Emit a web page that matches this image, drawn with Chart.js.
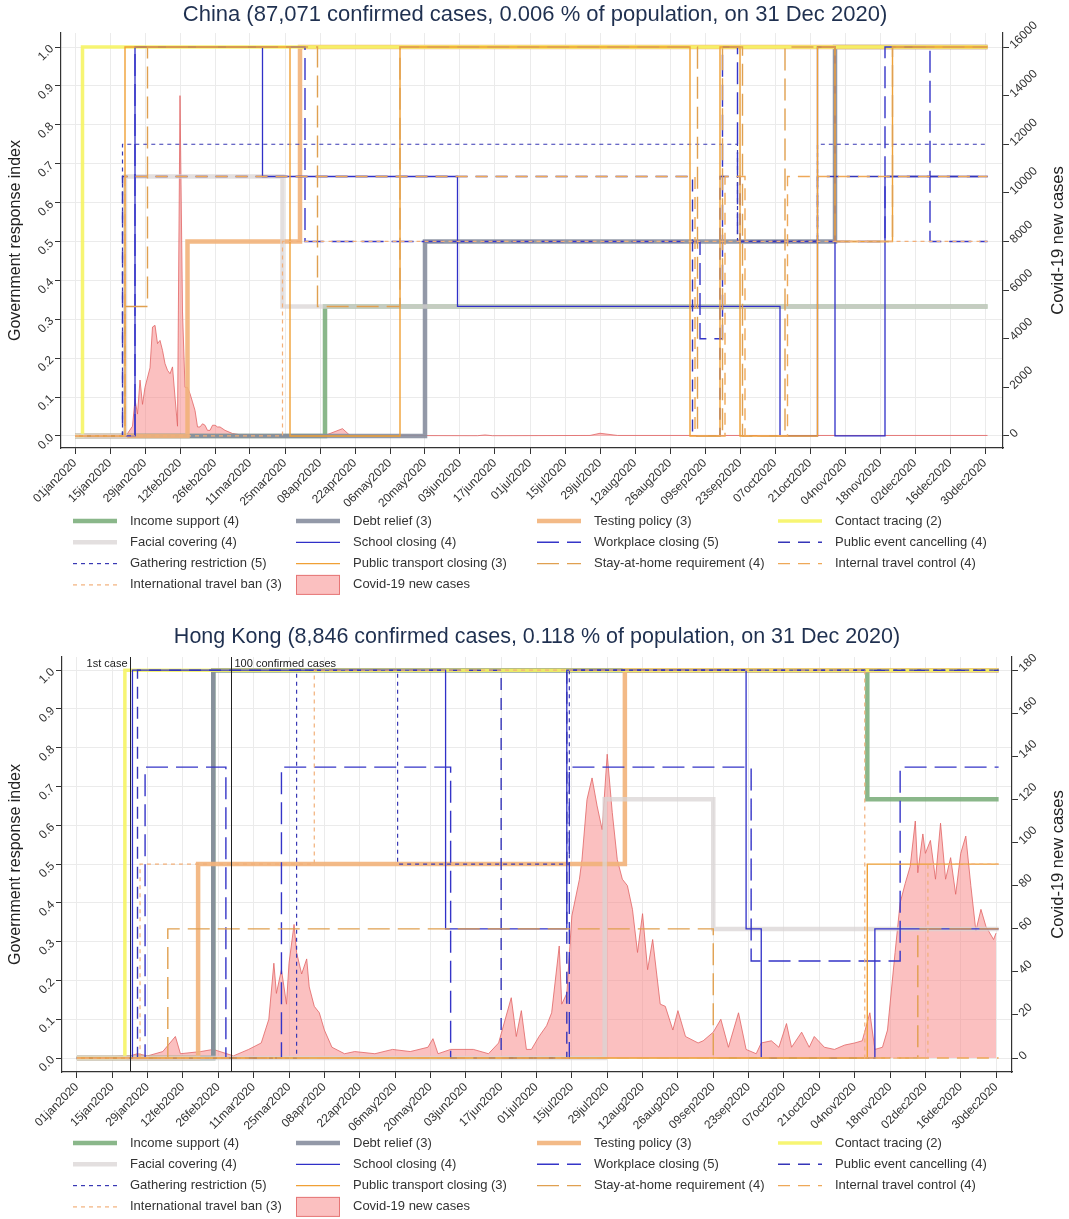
<!DOCTYPE html>
<html>
<head>
<meta charset="utf-8">
<script src="https://cdn.jsdelivr.net/npm/chart.js@4.4.1/dist/chart.umd.min.js"></script>
<style>
  body { margin: 0; background: #fff; }
  canvas { display: block; }
</style>
</head>
<body>
<canvas id="cn" width="1069" height="610"></canvas>
<canvas id="hk" width="1069" height="609"></canvas>
<script>
// ---- data ----

// x ticks every two weeks
const xTicks = ['2020-01-01','2020-01-15','2020-01-29','2020-02-12','2020-02-26','2020-03-11','2020-03-25',
  '2020-04-08','2020-04-22','2020-05-06','2020-05-20','2020-06-03','2020-06-17','2020-07-01','2020-07-15',
  '2020-07-29','2020-08-12','2020-08-26','2020-09-09','2020-09-23','2020-10-07','2020-10-21','2020-11-04',
  '2020-11-18','2020-12-02','2020-12-16','2020-12-30'];
const indexTicks  = [0, 0.1, 0.2, 0.3, 0.4, 0.5, 0.6, 0.7, 0.8, 0.9, 1.0];
const cnCaseTicks = [0, 2000, 4000, 6000, 8000, 10000, 12000, 14000, 16000];
const hkCaseTicks = [0, 20, 40, 60, 80, 100, 120, 140, 160, 180];

const policyLabels = ['Income support (4)', 'Debt relief (3)', 'Testing policy (3)', 'Contact tracing (2)',
  'Facial covering (4)', 'School closing (4)', 'Workplace closing (5)', 'Public event cancelling (4)',
  'Gathering restriction (5)', 'Public transport closing (3)', 'Stay-at-home requirement (4)',
  'Internal travel control (4)', 'International travel ban (3)'];
const casesLabel = 'Covid-19 new cases';

// China: [date the value starts, value]
const cnIncome    = [['2020-01-01',0],['2020-04-10',0.333]];
const cnDebt      = [['2020-01-01',0],['2020-05-20',0.5],['2020-10-31',1]];
const cnTesting   = [['2020-01-01',0],['2020-02-15',0.5],['2020-03-31',1]];
const cnContact   = [['2020-01-01',0],['2020-01-04',1]];
const cnFacial    = [['2020-01-01',0],['2020-01-21',0.667],['2020-03-24',0.333]];
const cnSchool    = [['2020-01-01',0],['2020-01-25',1],['2020-03-16',0.667],['2020-06-02',0.333],['2020-10-09',0],
                     ['2020-10-24',1],['2020-10-31',0],['2020-11-20',0.667]];
const cnWorkplace = [['2020-01-01',0],['2020-01-25',1],['2020-04-02',0.5],['2020-09-07',0.25],['2020-09-16',1],
                     ['2020-09-22',0.5],['2020-11-20',1],['2020-12-08',0.5]];
const cnEvent     = [['2020-01-01',0],['2020-01-20',0.667],['2020-09-04',0],['2020-09-15',0.667],['2020-09-23',0.5],
                     ['2020-10-24',0.667]];
const cnGathering = [['2020-01-01',0],['2020-01-20',0.75],['2020-09-22',0.5],['2020-10-24',0.75]];
const cnTransport = [['2020-01-01',0],['2020-01-21',1],['2020-03-27',0],['2020-05-10',1],['2020-09-03',0],
                     ['2020-09-15',1],['2020-09-23',0],['2020-10-24',1],['2020-10-31',0.5],['2020-11-23',1]];
const cnStay      = [['2020-01-01',0],['2020-01-21',0.333],['2020-01-30',1],['2020-04-07',0.333],['2020-05-10',1],
                     ['2020-09-06',0],['2020-09-16',1],['2020-09-24',0],['2020-10-11',1],['2020-10-31',0.5],
                     ['2020-11-23',1]];
const cnInternal  = [['2020-01-01',0],['2020-01-21',0.667],['2020-09-05',0],['2020-09-17',0.667],['2020-09-25',0],
                     ['2020-10-12',0.667]];
const cnIntl      = [['2020-01-01',0],['2020-03-24',0.5]];
const cnCases = [['2020-01-01',0],['2020-01-19',0],['2020-01-22',100],['2020-01-24',400],['2020-01-25',1500],
  ['2020-01-26',900],['2020-01-27',2300],['2020-01-28',1300],['2020-01-29',2000],['2020-01-31',2800],
  ['2020-02-01',4480],['2020-02-02',4550],['2020-02-03',3800],['2020-02-04',3930],['2020-02-05',3520],
  ['2020-02-06',2975],['2020-02-07',2700],['2020-02-08',2560],['2020-02-09',2840],['2020-02-10',1600],
  ['2020-02-11',400],['2020-02-12',14000],['2020-02-13',5100],['2020-02-14',2000],['2020-02-15',2000],
  ['2020-02-16',1740],['2020-02-17',1400],['2020-02-18',1050],['2020-02-19',370],['2020-02-20',370],
  ['2020-02-21',500],['2020-02-22',440],['2020-02-23',230],['2020-02-24',230],['2020-02-25',440],
  ['2020-02-26',440],['2020-02-27',370],['2020-02-28',370],['2020-03-01',230],['2020-03-04',100],
  ['2020-03-07',50],['2020-03-20',40],['2020-04-10',30],['2020-04-12',100],['2020-04-17',300],['2020-04-20',20],
  ['2020-06-10',10],['2020-06-13',40],['2020-06-16',10],['2020-07-25',20],['2020-07-29',110],['2020-08-05',20],
  ['2020-12-31',20]];

// Hong Kong
const hkIncome    = [['2020-01-01',0],['2020-02-24',1],['2020-11-09',0.667]];
const hkDebt      = [['2020-01-01',0],['2020-02-24',1]];
const hkTesting   = [['2020-01-01',0],['2020-02-18',0.5],['2020-08-05',1]];
const hkContact   = [['2020-01-01',0],['2020-01-20',1]];
const hkFacial    = [['2020-01-01',0],['2020-07-28',0.667],['2020-09-09',0.333]];
const hkSchool    = [['2020-01-01',0],['2020-01-23',1],['2020-05-26',0.333],['2020-07-13',1],['2020-09-22',0.333],
                     ['2020-09-28',0],['2020-11-12',0.333]];
const hkWorkplace = [['2020-01-01',0],['2020-01-28',0.75],['2020-02-29',0],['2020-03-22',0.75],['2020-05-28',0],
                     ['2020-07-14',0.75],['2020-09-24',0.25],['2020-11-22',0.75]];
const hkEvent     = [['2020-01-01',0],['2020-01-25',1],['2020-06-17',0],['2020-07-13',1]];
const hkGathering = [['2020-01-01',0],['2020-03-28',1],['2020-05-07',0.5],['2020-07-14',1]];
const hkTransport = [['2020-01-01',0],['2020-11-09',0.5]];
const hkStay      = [['2020-01-01',0],['2020-02-06',0.333],['2020-09-09',0],['2020-11-29',0.333]];
const hkInternal  = [['2020-01-01',0]];
const hkIntl      = [['2020-01-01',0],['2020-01-26',0.5],['2020-04-04',1],['2020-11-08',0],['2020-12-03',0.5]];
const hkCases = [['2020-01-01',0],['2020-01-22',1],['2020-01-25',2],['2020-01-29',1],['2020-02-04',3],['2020-02-09',10],
  ['2020-02-11',2],['2020-02-19',3],['2020-02-24',4],['2020-03-03',1],['2020-03-09',4],['2020-03-14',7],
  ['2020-03-17',18],['2020-03-19',44],['2020-03-20',30],['2020-03-22',41],['2020-03-24',25],['2020-03-25',44],
  ['2020-03-27',62],['2020-03-28',49],['2020-03-30',39],['2020-04-01',46],['2020-04-02',33],['2020-04-04',24],
  ['2020-04-06',21],['2020-04-08',13],['2020-04-11',5],['2020-04-16',2],['2020-04-20',3],['2020-04-28',2],
  ['2020-05-05',4],['2020-05-12',3],['2020-05-19',5],['2020-05-21',9],['2020-05-23',2],['2020-05-28',4],
  ['2020-06-06',4],['2020-06-12',2],['2020-06-16',7],['2020-06-21',28],['2020-06-23',10],['2020-06-25',22],
  ['2020-06-27',4],['2020-06-29',4],['2020-07-02',10],['2020-07-05',15],['2020-07-07',21],['2020-07-10',52],
  ['2020-07-11',25],['2020-07-13',30],['2020-07-15',66],['2020-07-18',83],['2020-07-19',92],['2020-07-21',120],
  ['2020-07-23',130],['2020-07-25',117],['2020-07-27',106],['2020-07-29',141],['2020-07-31',114],['2020-08-02',92],
  ['2020-08-04',83],['2020-08-06',80],['2020-08-08',69],['2020-08-10',49],['2020-08-12',67],['2020-08-14',41],
  ['2020-08-16',55],['2020-08-19',25],['2020-08-21',24],['2020-08-24',13],['2020-08-26',22],['2020-08-29',10],
  ['2020-09-03',7],['2020-09-05',8],['2020-09-09',12],['2020-09-12',18],['2020-09-15',5],['2020-09-19',21],
  ['2020-09-22',4],['2020-09-26',2],['2020-09-28',7],['2020-10-02',8],['2020-10-05',5],['2020-10-08',16],
  ['2020-10-10',5],['2020-10-14',12],['2020-10-17',5],['2020-10-19',10],['2020-10-23',5],['2020-10-27',4],
  ['2020-10-31',6],['2020-11-04',7],['2020-11-07',8],['2020-11-10',21],['2020-11-12',4],['2020-11-15',5],
  ['2020-11-17',13],['2020-11-20',49],['2020-11-22',72],['2020-11-24',81],['2020-11-26',89],['2020-11-28',110],
  ['2020-11-29',86],['2020-12-01',104],['2020-12-02',95],['2020-12-04',101],['2020-12-06',83],['2020-12-08',109],
  ['2020-12-10',83],['2020-12-12',93],['2020-12-14',76],['2020-12-16',95],['2020-12-18',103],['2020-12-20',80],
  ['2020-12-22',59],['2020-12-24',69],['2020-12-26',61],['2020-12-29',55],['2020-12-30',58]];
const hkEvents = [['2020-01-22','1st case'],['2020-03-02','100 confirmed cases']];

// ---- styles ----
const FONT = '"Liberation Sans", Arial, sans-serif';
Chart.defaults.font.family = FONT;
Chart.defaults.color = '#333';

const policyStyles = [
  { color: 'rgba(118,170,118,0.85)', width: 4.5, dash: [] },
  { color: 'rgba(135,142,158,0.9)',  width: 4.5, dash: [] },
  { color: 'rgba(242,178,122,0.9)',  width: 4.5, dash: [] },
  { color: 'rgba(246,244,100,0.9)',  width: 3.5, dash: [] },
  { color: 'rgba(218,212,212,0.75)', width: 4.5, dash: [] },
  { color: '#3030c8', width: 1.3, dash: [] },
  { color: '#3535c8', width: 1.4, dash: [22, 8] },
  { color: '#3535b8', width: 1.4, dash: [12, 8] },
  { color: '#3838b4', width: 1.2, dash: [4, 4] },
  { color: '#f0a035', width: 1.4, dash: [] },
  { color: '#e0a050', width: 1.4, dash: [22, 8] },
  { color: '#eea858', width: 1.4, dash: [12, 8] },
  { color: '#f2b07a', width: 1.2, dash: [4, 4] },
];
const caseFill = 'rgba(248,130,130,0.5)';
const caseLine = 'rgba(225,100,100,0.8)';

// ---- helpers ----
const DAY = 864e5, T0 = Date.UTC(2020, 0, 1);
const MON = ['jan','feb','mar','apr','may','jun','jul','aug','sep','oct','nov','dec'];
function dayOf(s) {
  const [y, m, d] = s.split('-').map(Number);
  return (Date.UTC(y, m - 1, d) - T0) / DAY;
}
function fmtDay(v) {
  const d = new Date(T0 + v * DAY);
  return String(d.getUTCDate()).padStart(2, '0') + MON[d.getUTCMonth()] + d.getUTCFullYear();
}
function stepPoints(list) {
  const pts = list.map(([d, v]) => ({ x: dayOf(d), y: v }));
  pts.push({ x: dayOf('2020-12-31'), y: list[list.length - 1][1] });
  return pts;
}

// title, right axis title, legend and event lines
const decor = {
  id: 'decor',
  afterDraw(chart) {
    const o = chart.options.plugins.decor;
    const ctx = chart.ctx, a = chart.chartArea;
    ctx.save();
    ctx.fillStyle = '#1f3050';
    ctx.font = o.titleSize + 'px ' + FONT;
    ctx.textAlign = 'center';
    ctx.textBaseline = 'middle';
    ctx.fillText(o.title, o.titleX, o.titleY);

    ctx.save();
    ctx.translate(o.rightTitleX, (a.top + a.bottom) / 2);
    ctx.rotate(-Math.PI / 2);
    ctx.fillStyle = '#222';
    ctx.font = '16.5px ' + FONT;
    ctx.fillText(casesLabel, 0, 0);
    ctx.restore();

    (o.events || []).forEach(([d, txt], i) => {
      const x = Math.round(chart.scales.x.getPixelForValue(dayOf(d))) + 0.5;
      ctx.strokeStyle = '#222';
      ctx.lineWidth = 1;
      ctx.setLineDash([]);
      ctx.beginPath();
      ctx.moveTo(x, a.top);
      ctx.lineTo(x, a.bottom);
      ctx.stroke();
      ctx.fillStyle = '#222';
      ctx.font = '11px ' + FONT;
      ctx.textAlign = i === 0 ? 'right' : 'left';
      ctx.fillText(txt, i === 0 ? x - 3 : x + 3, a.top + 7);
    });

    const colX = [73, 296, 537, 778];
    ctx.font = '13px ' + FONT;
    ctx.textAlign = 'left';
    chart.data.datasets.forEach((ds, i) => {
      const x = colX[i % 4], y = o.legendTop + Math.floor(i / 4) * 21.3;
      if (ds.fill) {
        ctx.fillStyle = ds.backgroundColor;
        ctx.fillRect(x, y - 10, 44, 20);
        ctx.strokeStyle = ds.borderColor;
        ctx.lineWidth = 1;
        ctx.setLineDash([]);
        ctx.strokeRect(x + 0.5, y - 9.5, 43, 19);
      } else {
        ctx.strokeStyle = ds.borderColor;
        ctx.lineWidth = ds.borderWidth;
        ctx.setLineDash(ds.borderDash);
        ctx.beginPath();
        ctx.moveTo(x, y);
        ctx.lineTo(x + 44, y);
        ctx.stroke();
      }
      ctx.fillStyle = '#333';
      ctx.fillText(ds.label, x + 57, y);
    });
    ctx.restore();
  }
};

function makeChart(id, o) {
  const datasets = o.policies.map((list, i) => ({
    label: policyLabels[i],
    data: stepPoints(list),
    stepped: 'before',
    borderColor: policyStyles[i].color,
    borderWidth: policyStyles[i].width,
    borderDash: policyStyles[i].dash,
    fill: false,
    yAxisID: 'y',
    order: 13 - i
  }));
  datasets.push({
    label: casesLabel,
    data: o.cases.map(([d, v]) => ({ x: dayOf(d), y: v })),
    borderColor: caseLine,
    borderWidth: 1,
    backgroundColor: caseFill,
    fill: 'origin',
    yAxisID: 'yc',
    order: 20
  });
  const caseTop = o.caseTicks[o.caseTicks.length - 1];
  return new Chart(document.getElementById(id), {
    type: 'line',
    data: { datasets },
    plugins: [decor],
    options: {
      responsive: false,
      animation: false,
      layout: { padding: { top: o.padTop, bottom: o.padBottom, left: 0, right: 0 } },
      elements: { point: { radius: 0 }, line: { tension: 0 } },
      plugins: {
        legend: { display: false },
        title: { display: false },
        tooltip: { enabled: false },
        decor: o.decor
      },
      scales: {
        x: {
          type: 'linear',
          min: o.xMin, max: o.xMax,
          afterBuildTicks: s => { s.ticks = xTicks.map(d => ({ value: dayOf(d) })); },
          afterFit: s => { s.height = 70; },
          ticks: { autoSkip: false, minRotation: 45, maxRotation: 45, font: { size: 12 }, color: '#333',
                   padding: 2, callback: v => fmtDay(v) },
          grid: { color: '#ebebeb', tickColor: '#333', tickLength: 6 },
          border: { color: '#333', width: 1.2 }
        },
        y: {
          position: 'left',
          min: o.yMin, max: o.yMax,
          afterBuildTicks: s => { s.ticks = indexTicks.map(v => ({ value: v })); },
          afterFit: s => { s.width = o.leftW; },
          ticks: { minRotation: 45, maxRotation: 45, font: { size: 12 }, color: '#333', padding: 3,
                   callback: v => v.toFixed(1) },
          grid: { color: '#ebebeb', tickColor: '#333', tickLength: 6 },
          border: { color: '#333', width: 1.2 },
          title: { display: true, text: 'Government response index', font: { size: 16 }, color: '#222',
                   padding: { top: 6, bottom: 0 } }
        },
        yc: {
          position: 'right',
          min: o.yMin * caseTop, max: o.yMax * caseTop,
          afterBuildTicks: s => { s.ticks = o.caseTicks.map(v => ({ value: v })); },
          afterFit: s => { s.width = o.rightW; },
          ticks: { minRotation: 45, maxRotation: 45, font: { size: 12 }, color: '#333', padding: 3,
                   callback: v => String(v) },
          grid: { drawOnChartArea: false, tickColor: '#333', tickLength: 6 },
          border: { color: '#333', width: 1.2 }
        }
      }
    }
  });
}

makeChart('cn', {
  policies: [cnIncome, cnDebt, cnTesting, cnContact, cnFacial, cnSchool, cnWorkplace, cnEvent,
             cnGathering, cnTransport, cnStay, cnInternal, cnIntl],
  cases: cnCases,
  caseTicks: cnCaseTicks,
  xMin: -5.6, xMax: 371.2, yMin: -0.031, yMax: 1.036,
  padTop: 33, padBottom: 92, leftW: 61, rightW: 66,
  decor: {
    title: 'China (87,071 confirmed cases, 0.006 % of population, on 31 Dec 2020)',
    titleSize: 22, titleX: 535, titleY: 15, rightTitleX: 1058, legendTop: 521
  }
});

makeChart('hk', {
  policies: [hkIncome, hkDebt, hkTesting, hkContact, hkFacial, hkSchool, hkWorkplace, hkEvent,
             hkGathering, hkTransport, hkStay, hkInternal, hkIntl],
  cases: hkCases,
  caseTicks: hkCaseTicks,
  xMin: -5.9, xMax: 370.3, yMin: -0.036, yMax: 1.034,
  padTop: 47, padBottom: 77, leftW: 62, rightW: 57,
  decor: {
    title: 'Hong Kong (8,846 confirmed cases, 0.118 % of population, on 31 Dec 2020)',
    titleSize: 21.5, titleX: 537, titleY: 27, rightTitleX: 1058, legendTop: 533, events: hkEvents
  }
});
</script>
</body>
</html>
